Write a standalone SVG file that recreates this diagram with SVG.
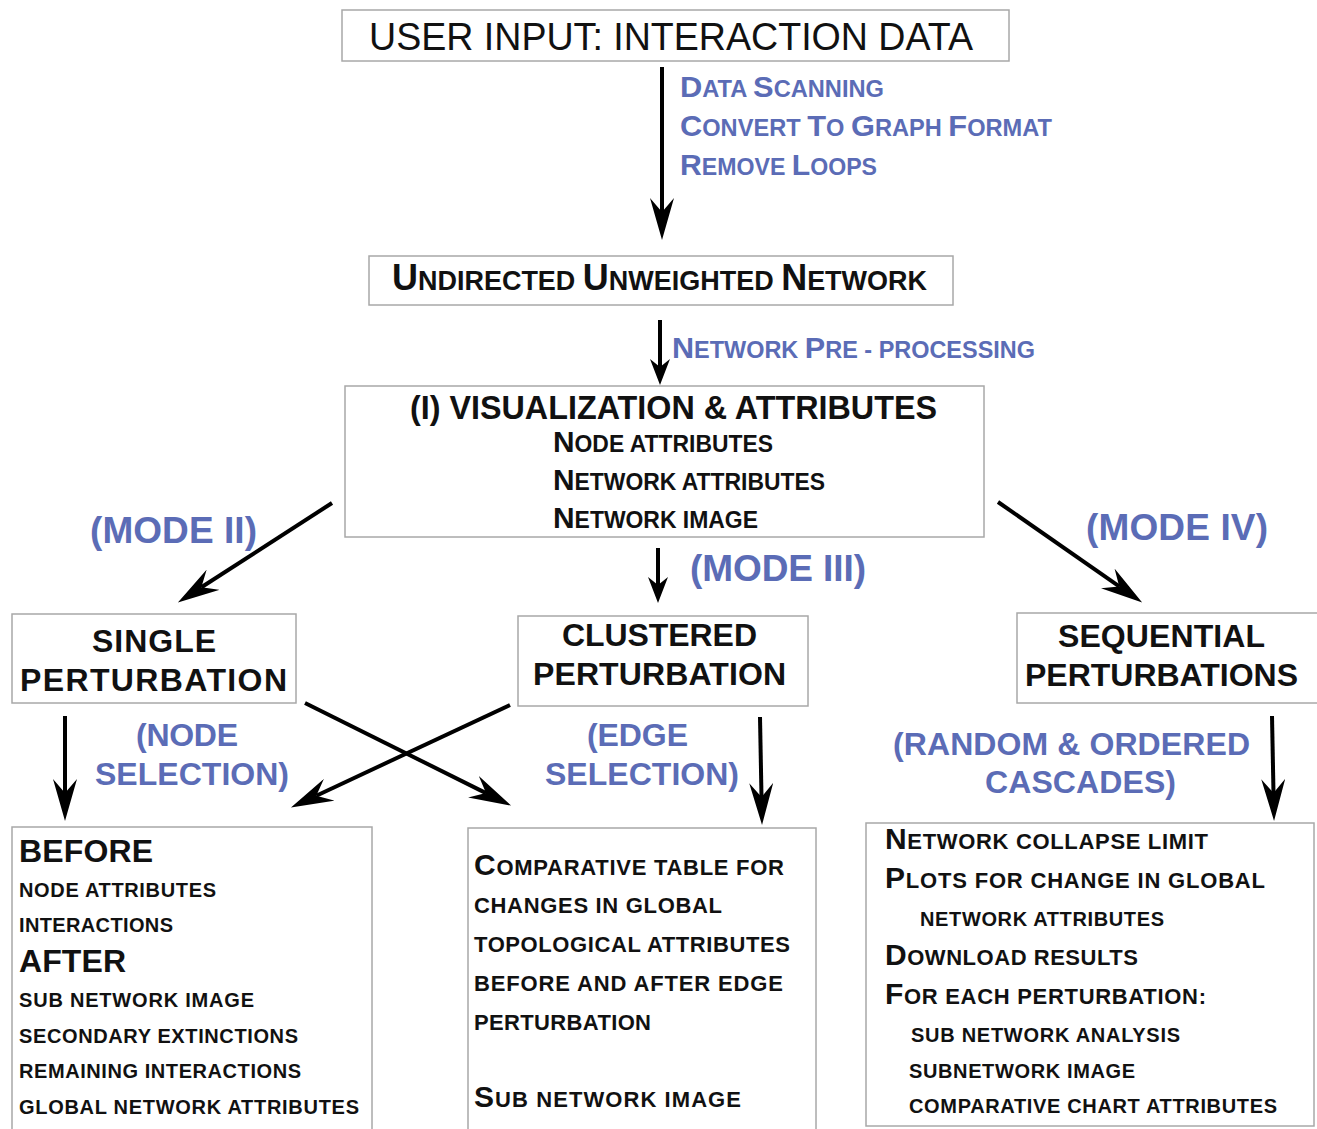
<svg xmlns="http://www.w3.org/2000/svg" width="1317" height="1129" viewBox="0 0 1317 1129">
<style>
.box{fill:#fff;stroke:#a8a8a8;stroke-width:1.5}
.n{font-family:"Liberation Sans Narrow","Liberation Sans",Arial,sans-serif;fill:#111}
.nb{font-family:"Liberation Sans Narrow","Liberation Sans",Arial,sans-serif;font-weight:bold;fill:#111}
.b{font-family:"Liberation Sans",Arial,sans-serif;font-weight:bold;fill:#111}
.blue{fill:#5B6CB6}
.arr{stroke:#000;stroke-width:4;fill:none}
</style>
<defs>
<marker id="ah" markerUnits="userSpaceOnUse" viewBox="0 -12 42 24" markerWidth="42" markerHeight="24" refX="14" refY="0" orient="auto">
<path d="M0,-12 L42,0 L0,12 L14,0 Z" fill="#000"/>
</marker>
<marker id="as" markerUnits="userSpaceOnUse" viewBox="0 -10 26 20" markerWidth="26" markerHeight="20" refX="8" refY="0" orient="auto">
<path d="M0,-10 L26,0 L0,10 L8,0 Z" fill="#000"/>
</marker>
</defs>
<rect width="1317" height="1129" fill="#fff"/>

<g id="connectors">
<line class="arr" x1="662" y1="67" x2="662" y2="212" marker-end="url(#ah)"/>
<line class="arr" x1="660" y1="320" x2="660" y2="367" marker-end="url(#as)"/>
<line class="arr" x1="332" y1="503" x2="201.4" y2="587.3" marker-end="url(#ah)"/>
<line class="arr" x1="658" y1="548" x2="658" y2="585" marker-end="url(#as)"/>
<line class="arr" x1="998" y1="502" x2="1119.2" y2="586.4" marker-end="url(#ah)"/>
<line class="arr" x1="65" y1="716" x2="65" y2="793" marker-end="url(#ah)"/>
<line class="arr" x1="305" y1="703" x2="486" y2="793.1" marker-end="url(#ah)"/>
<line class="arr" x1="510" y1="705" x2="316.3" y2="795.7" marker-end="url(#ah)"/>
<line class="arr" x1="760" y1="717" x2="761.5" y2="797" marker-end="url(#ah)"/>
<line class="arr" x1="1272" y1="716" x2="1273.5" y2="793" marker-end="url(#ah)"/>
</g>

<g id="labels">
<text class="nb blue" x="680" y="97" textLength="204" lengthAdjust="spacingAndGlyphs"><tspan font-size="30">D</tspan><tspan font-size="23">ATA </tspan><tspan font-size="30">S</tspan><tspan font-size="23">CANNING</tspan></text>
<text class="nb blue" x="680" y="136" textLength="372" lengthAdjust="spacingAndGlyphs"><tspan font-size="30">C</tspan><tspan font-size="23">ONVERT </tspan><tspan font-size="30">T</tspan><tspan font-size="23">O </tspan><tspan font-size="30">G</tspan><tspan font-size="23">RAPH </tspan><tspan font-size="30">F</tspan><tspan font-size="23">ORMAT</tspan></text>
<text class="nb blue" x="680" y="175" textLength="197" lengthAdjust="spacingAndGlyphs"><tspan font-size="30">R</tspan><tspan font-size="23">EMOVE </tspan><tspan font-size="30">L</tspan><tspan font-size="23">OOPS</tspan></text>
<text class="nb blue" x="672" y="358" textLength="363" lengthAdjust="spacingAndGlyphs"><tspan font-size="30">N</tspan><tspan font-size="23">ETWORK </tspan><tspan font-size="30">P</tspan><tspan font-size="23">RE - PROCESSING</tspan></text>
<text class="b blue" x="90" y="543" font-size="37" textLength="167">(MODE II)</text>
<text class="b blue" x="690" y="581" font-size="37" textLength="176">(MODE III)</text>
<text class="b blue" x="1086" y="540" font-size="37" textLength="182">(MODE IV)</text>
<text class="b blue" x="136" y="746" font-size="32" textLength="102">(NODE</text>
<text class="b blue" x="95" y="785" font-size="32" textLength="194">SELECTION)</text>
<text class="b blue" x="587" y="746" font-size="32" textLength="101">(EDGE</text>
<text class="b blue" x="545" y="785" font-size="32" textLength="194">SELECTION)</text>
<text class="b blue" x="893" y="755" font-size="32" textLength="357">(RANDOM &amp; ORDERED</text>
<text class="b blue" x="985" y="793" font-size="32" textLength="191">CASCADES)</text>
</g>

<g id="node-input">
<rect class="box" x="342" y="10" width="667" height="51"/>
<text class="n" x="369" y="50" font-size="39" textLength="604" lengthAdjust="spacingAndGlyphs">USER INPUT: INTERACTION DATA</text>
</g>

<g id="node-undirected">
<rect class="box" x="369" y="256" width="584" height="49"/>
<text class="nb" x="392" y="290" textLength="535" lengthAdjust="spacingAndGlyphs"><tspan font-size="36">U</tspan><tspan font-size="27">NDIRECTED </tspan><tspan font-size="36">U</tspan><tspan font-size="27">NWEIGHTED </tspan><tspan font-size="36">N</tspan><tspan font-size="27">ETWORK</tspan></text>
</g>

<g id="node-visualization">
<rect class="box" x="345" y="386" width="639" height="151"/>
<text class="nb" x="410" y="419" font-size="34" textLength="527" lengthAdjust="spacingAndGlyphs">(I) VISUALIZATION &amp; ATTRIBUTES</text>
<text class="nb" x="553" y="452" textLength="220" lengthAdjust="spacingAndGlyphs"><tspan font-size="30">N</tspan><tspan font-size="23">ODE ATTRIBUTES</tspan></text>
<text class="nb" x="553" y="490" textLength="272" lengthAdjust="spacingAndGlyphs"><tspan font-size="30">N</tspan><tspan font-size="23">ETWORK ATTRIBUTES</tspan></text>
<text class="nb" x="553" y="528" textLength="205" lengthAdjust="spacingAndGlyphs"><tspan font-size="30">N</tspan><tspan font-size="23">ETWORK IMAGE</tspan></text>
</g>

<g id="node-single">
<rect class="box" x="12" y="614" width="284" height="89"/>
<text class="b" x="92" y="652" font-size="32" textLength="124">SINGLE</text>
<text class="b" x="20" y="691" font-size="32" textLength="267">PERTURBATION</text>
</g>

<g id="node-clustered">
<rect class="box" x="518" y="616" width="290" height="90"/>
<text class="b" x="562" y="646" font-size="32" textLength="195">CLUSTERED</text>
<text class="b" x="533" y="685" font-size="32" textLength="253">PERTURBATION</text>
</g>

<g id="node-sequential">
<rect class="box" x="1017" y="613" width="310" height="90"/>
<text class="b" x="1058" y="647" font-size="32" textLength="207">SEQUENTIAL</text>
<text class="b" x="1025" y="686" font-size="32" textLength="273">PERTURBATIONS</text>
</g>

<g id="node-single-results">
<rect class="box" x="12" y="827" width="360" height="320"/>
<text class="b" x="19" y="862" font-size="32" textLength="134">BEFORE</text>
<text class="b" x="19" y="897" font-size="20" textLength="197">NODE ATTRIBUTES</text>
<text class="b" x="19" y="932" font-size="20" textLength="154">INTERACTIONS</text>
<text class="b" x="19" y="972" font-size="32" textLength="107">AFTER</text>
<text class="b" x="19" y="1007" font-size="20" textLength="235">SUB NETWORK IMAGE</text>
<text class="b" x="19" y="1043" font-size="20" textLength="279">SECONDARY EXTINCTIONS</text>
<text class="b" x="19" y="1078" font-size="20" textLength="282">REMAINING INTERACTIONS</text>
<text class="b" x="19" y="1114" font-size="20" textLength="340">GLOBAL NETWORK ATTRIBUTES</text>
</g>

<g id="node-clustered-results">
<rect class="box" x="468" y="828" width="348" height="320"/>
<text class="b" x="474" y="875" textLength="310"><tspan font-size="30">C</tspan><tspan font-size="22">OMPARATIVE TABLE FOR</tspan></text>
<text class="b" x="474" y="913" font-size="22" textLength="248">CHANGES IN GLOBAL</text>
<text class="b" x="474" y="952" font-size="22" textLength="316">TOPOLOGICAL ATTRIBUTES</text>
<text class="b" x="474" y="991" font-size="22" textLength="309">BEFORE AND AFTER EDGE</text>
<text class="b" x="474" y="1030" font-size="22" textLength="177">PERTURBATION</text>
<text class="b" x="474" y="1107" textLength="267"><tspan font-size="30">S</tspan><tspan font-size="22">UB NETWORK IMAGE</tspan></text>
</g>

<g id="node-sequential-results">
<rect class="box" x="866" y="823" width="448" height="303"/>
<text class="b" x="885" y="849" textLength="323"><tspan font-size="30">N</tspan><tspan font-size="22">ETWORK COLLAPSE LIMIT</tspan></text>
<text class="b" x="885" y="888" textLength="380"><tspan font-size="30">P</tspan><tspan font-size="22">LOTS FOR CHANGE IN GLOBAL</tspan></text>
<text class="b" x="920" y="926" font-size="20" textLength="244">NETWORK ATTRIBUTES</text>
<text class="b" x="885" y="965" textLength="253"><tspan font-size="30">D</tspan><tspan font-size="22">OWNLOAD RESULTS</tspan></text>
<text class="b" x="885" y="1004" textLength="321"><tspan font-size="30">F</tspan><tspan font-size="22">OR EACH PERTURBATION:</tspan></text>
<text class="b" x="911" y="1042" font-size="20" textLength="269">SUB NETWORK ANALYSIS</text>
<text class="b" x="909" y="1078" font-size="20" textLength="226">SUBNETWORK IMAGE</text>
<text class="b" x="909" y="1113" font-size="20" textLength="368">COMPARATIVE CHART ATTRIBUTES</text>
</g>
</svg>
